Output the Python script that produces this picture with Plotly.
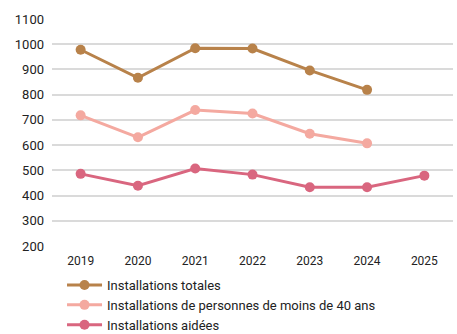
import plotly.graph_objects as go

years = ["2019", "2020", "2021", "2022", "2023", "2024", "2025"]
totales = [978, 867, 984, 983, 896, 819, None]
moins_40 = [718, 631, 739, 725, 645, 607, None]
aidees = [486, 439, 507, 483, 433, 433, 479]

series = [
    ("Installations totales", totales, "#B8824A"),
    ("Installations de personnes de moins de 40 ans", moins_40, "#F4A9A0"),
    ("Installations aidées", aidees, "#D9667F"),
]

fig = go.Figure()
for name, vals, color in series:
    fig.add_trace(go.Scatter(
        x=years, y=vals, name=name, mode="lines+markers",
        line=dict(color=color, width=3),
        marker=dict(color=color, size=10),
    ))

H = 334
TOP = 19
# plot occupies the full paper height; the y axis only uses its upper part
paper_h = H - TOP
y_bottom_px = 246
domain_low = (H - y_bottom_px) / paper_h
legend_top_px = 270
legend_y = (H - legend_top_px) / paper_h

fig.update_layout(
    width=457, height=H,
    margin=dict(l=52, r=4, t=TOP, b=0, autoexpand=False),
    paper_bgcolor="white", plot_bgcolor="white",
    font=dict(family="Roboto, sans-serif", size=12, color="#222"),
    showlegend=True,
    legend=dict(
        orientation="v", x=0.025, xanchor="left", y=legend_y, yanchor="top",
        font=dict(size=13, color="#222"), tracegroupgap=0,
        itemwidth=35, bgcolor="rgba(0,0,0,0)",
    ),
)
fig.update_xaxes(
    type="category", range=[-0.5, 6.5], showgrid=False, showline=False,
    ticks="", tickfont=dict(size=12), fixedrange=True,
    ticklabelstandoff=6, anchor="y",
)
fig.update_yaxes(
    domain=[domain_low, 1],
    range=[200, 1100], dtick=100, showgrid=True, gridcolor="#DADADA",
    gridwidth=1.5, zeroline=False, showline=False, ticks="",
    tickfont=dict(size=13), ticklabelstandoff=7,
)

fig.write_html("out.html")
